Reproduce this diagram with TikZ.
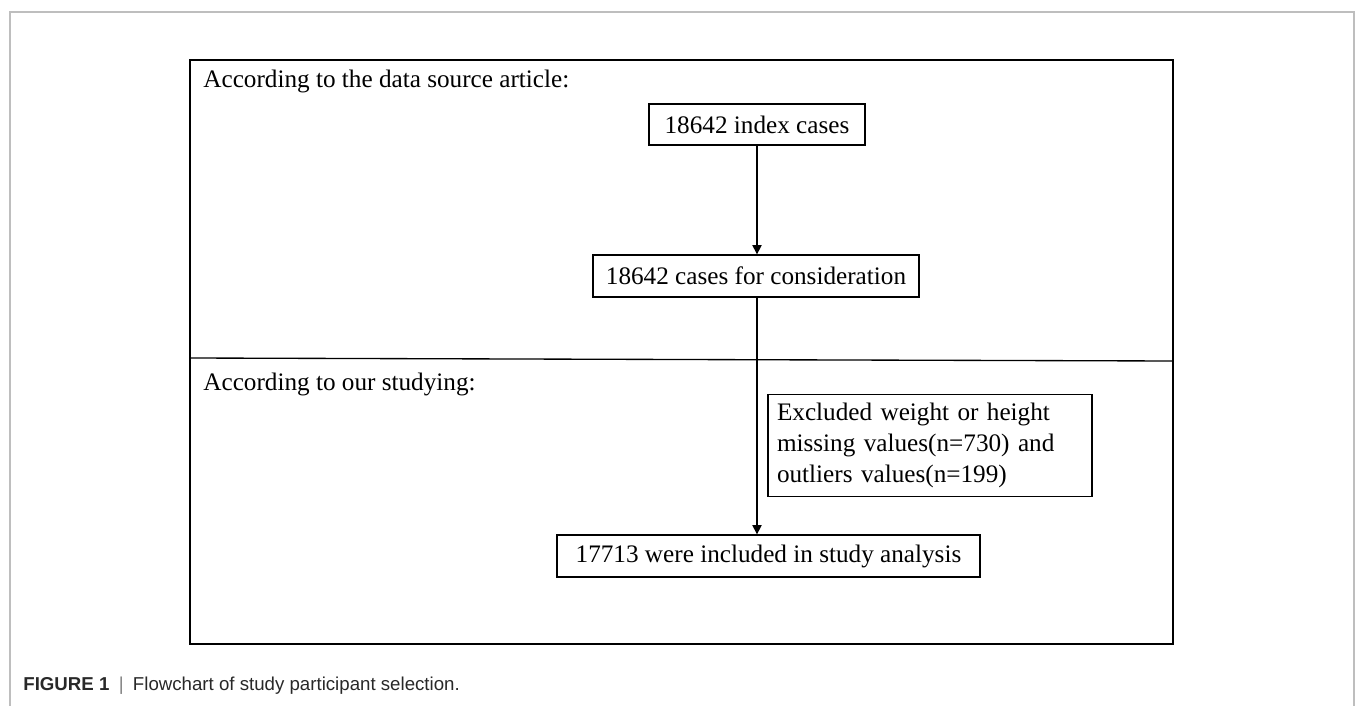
\documentclass[tikz,border=0pt]{standalone}
\usepackage{fontspec}
\setmainfont{Liberation Serif}
\newfontfamily\capfont{Liberation Sans}
\usetikzlibrary{arrows.meta}

\tikzset{every picture/.style={line width=0.55pt}}

\begin{document}
\begin{tikzpicture}[x=0.75pt,y=0.75pt,yscale=-1,xscale=1,
    box/.style={draw,line width=1pt,inner sep=0pt,font=\fontsize{18.9}{23.3}\selectfont},
    hdr/.style={anchor=base west,inner sep=0pt,font=\fontsize{18.9}{23.3}\selectfont},
    flow/.style={line width=1pt,-{Triangle[length=7pt,width=7pt]}}]
            \useasboundingbox (0,0) rectangle (1355,706);
            %Page frame
            \draw [color={rgb, 255:red, 190; green, 190; blue, 190 }, line width=1pt]  (10,706) -- (10,12) -- (1354,12) -- (1354,706) ;
            %Outer frame
            \draw [line width=1pt]  (190,60) rectangle (1173,644) ;
            %Straight Lines
            \draw [line width=1pt]  (190,358) -- (1173,361) ;
            % Text Node
            \node [hdr] (src) at (203,88) {According to the data source article:};
            % Text Node
            \node [hdr] (our) at (203,390) {According to our studying:};
            % Boxes
            \node [box, minimum width=216*0.75pt, minimum height=41*0.75pt] (idx) at (757,124.5) {18642 index cases};
            \node [box, minimum width=326*0.75pt, minimum height=42*0.75pt] (cons) at (756,276) {18642 cases for consideration};
            \node [box, minimum width=324*0.75pt, minimum height=102*0.75pt, text width=306*0.75pt, align=left] (excl) at (930,445.5) {Excluded weight or height\\missing values(n=730) and\\outliers values(n=199)};
            \node [box, minimum width=423*0.75pt, minimum height=42*0.75pt] (incl) at (768.5,556) {17713 were included in study analysis};
            %Arrows
            \draw [flow]  (idx.south -| 757,0) -- (cons.north -| 757,0) ;
            \draw [flow]  (cons.south -| 757,0) -- (incl.north -| 757,0) ;
            % Caption
            \node [anchor=base west, inner sep=0pt, font=\capfont\fontsize{14}{16}\selectfont, color={rgb, 255:red, 40; green, 40; blue, 40 }] (cap) at (23,690) {\textbf{FIGURE 1}\hspace{0.5em}{\color{gray}|}\hspace{0.5em}Flowchart of study participant selection.};
        \end{tikzpicture}
\end{document}
